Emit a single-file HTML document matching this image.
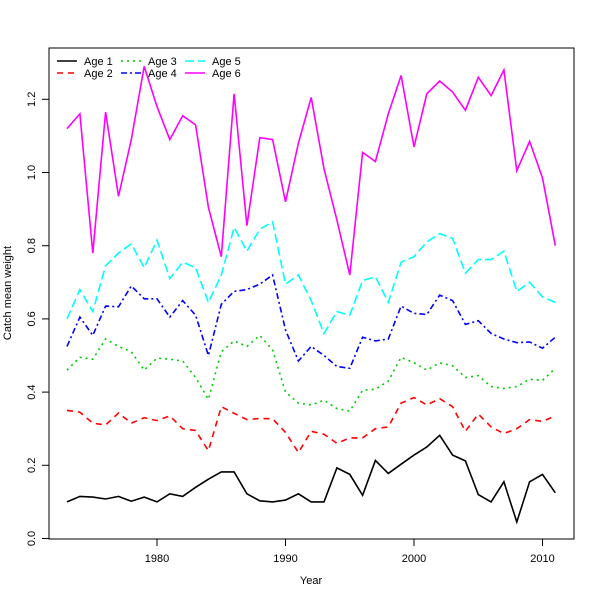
<!DOCTYPE html>
<html><head><style>body{margin:0;background:#fff}svg{display:block}text{font-family:"Liberation Sans",sans-serif;font-size:11px}</style></head><body>
<svg id="s" width="600" height="600" xmlns="http://www.w3.org/2000/svg">
<rect x="49" y="48" width="525" height="491" fill="none" stroke="#000" stroke-width="1"/>
<g id="ax" stroke="#000"></g>
<g id="lines" fill="none" stroke-width="1.6"></g>
<text x="311" y="584" text-anchor="middle">Year</text>
<text transform="translate(11,293) rotate(-90)" text-anchor="middle">Catch mean weight</text>
<g id="leg"></g>
</svg>
<script>
const NS="http://www.w3.org/2000/svg";
function el(p,t,a,txt){const e=document.createElementNS(NS,t);for(const k in a)e.setAttribute(k,a[k]);if(txt!==undefined)e.textContent=txt;document.getElementById(p).appendChild(e);return e;}
const X=y=>157+(y-1980)*12.85, Y=v=>538.5-v*366;
const s=document.getElementById('s');
for(let yr=1980;yr<=2010;yr+=10){el('ax','line',{x1:X(yr),x2:X(yr),y1:539,y2:546});el('s','text',{x:X(yr),y:562,'text-anchor':'middle'},String(yr));}
el('ax','line',{x1:X(1980),x2:X(2010),y1:539,y2:539});
for(let i=0;i<=6;i++){const v=i*0.2,y=Y(v);el('ax','line',{x1:42,x2:49,y1:y,y2:y});el('s','text',{transform:`translate(35,${y}) rotate(-90)`,'text-anchor':'middle'},v.toFixed(1));}
el('ax','line',{x1:49,x2:49,y1:Y(0),y2:Y(1.2)});
const D=[
[.10,.115,.113,.108,.115,.102,.113,.100,.122,.115,.140,.162,.182,.182,.122,.103,.100,.105,.122,.100,.100,.193,.175,.118,.213,.178,.203,.228,.250,.282,.228,.212,.120,.100,.155,.045,.155,.175,.125],
[.35,.345,.315,.310,.343,.315,.330,.322,.335,.300,.295,.240,.360,.342,.325,.328,.327,.290,.235,.293,.285,.260,.275,.275,.300,.305,.370,.385,.365,.382,.360,.293,.340,.305,.287,.300,.325,.320,.335],
[.46,.495,.49,.545,.525,.51,.46,.493,.49,.485,.44,.38,.51,.54,.525,.555,.515,.40,.37,.365,.378,.355,.348,.405,.408,.43,.495,.48,.46,.48,.472,.44,.445,.415,.41,.415,.435,.432,.465],
[.525,.605,.555,.635,.633,.69,.655,.655,.605,.65,.61,.50,.64,.675,.68,.695,.72,.57,.485,.525,.50,.47,.465,.55,.54,.545,.635,.615,.612,.665,.65,.585,.595,.56,.545,.535,.537,.52,.55],
[.60,.68,.62,.745,.78,.805,.74,.815,.71,.755,.74,.645,.72,.85,.785,.845,.865,.695,.72,.65,.56,.62,.61,.705,.715,.645,.755,.77,.81,.833,.82,.725,.762,.762,.785,.675,.70,.66,.645],
[1.12,1.16,.78,1.165,.935,1.09,1.29,1.18,1.09,1.155,1.13,.905,.77,1.215,.855,1.095,1.09,.92,1.08,1.205,1.01,.87,.72,1.055,1.03,1.16,1.265,1.07,1.215,1.25,1.22,1.17,1.26,1.21,1.28,1.005,1.085,.985,.80]];
const C=['#000','#f00','#0c0','#00f','#0ff','#f0f'];
const DA=['none','6,5','2,4','6,3,2,3','9,4','none'];
D.forEach((d,i)=>{el('lines','path',{d:'M'+d.map((v,j)=>X(1973+j).toFixed(1)+','+Y(v).toFixed(1)).join('L'),stroke:C[i],'stroke-dasharray':DA[i]});});
const LX=[57,121,185];
for(let i=0;i<6;i++){const c=Math.floor(i/2),r=i%2,y=61+r*12;
el('leg','line',{x1:LX[c],x2:LX[c]+20,y1:y,y2:y,stroke:C[i],'stroke-width':1.6,'stroke-dasharray':DA[i]});
el('leg','text',{x:LX[c]+27,y:y+4},'Age '+(i+1));}
</script>
</body></html>
